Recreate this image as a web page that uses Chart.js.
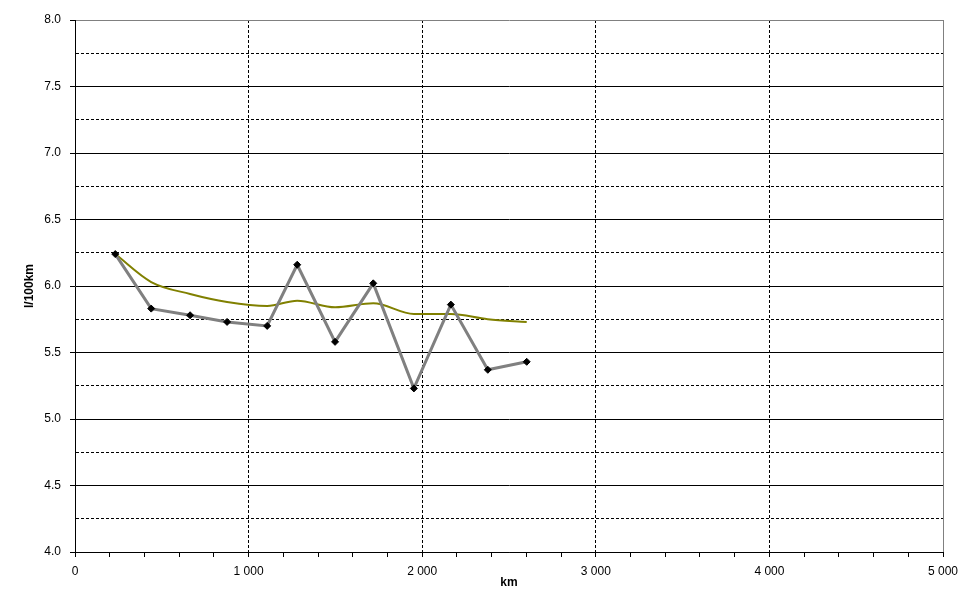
<!DOCTYPE html>
<html>
<head>
<meta charset="utf-8">
<script src="https://cdn.jsdelivr.net/npm/chart.js@4.4.1/dist/chart.umd.min.js"></script>
<style>
  html, body { margin: 0; padding: 0; background: #fff; }
</style>
</head>
<body>
<canvas id="myChart" width="977" height="600"></canvas>
<script>
const distanceKm = [232, 439, 663, 876, 1107, 1280, 1498, 1718, 1952, 2165, 2378, 2602];
const consumption = [6.24, 5.83, 5.78, 5.73, 5.70, 6.16, 5.58, 6.02, 5.23, 5.86, 5.37, 5.43];
const averageConsumption = [6.24, 6.03, 5.94, 5.88, 5.85, 5.89, 5.84, 5.87, 5.79, 5.79, 5.75, 5.73];
const xTickLabels = ['0', '1 000', '2 000', '3 000', '4 000', '5 000'];
const yTickLabels = ['4.0', '4.5', '5.0', '5.5', '6.0', '6.5', '7.0', '7.5', '8.0'];

const toPoints = (xs, ys) => xs.map((x, i) => ({ x, y: ys[i] }));

const isHalf = (v) => Math.abs(v * 2 - Math.round(v * 2)) < 1e-6;
const isThousand = (v) => v % 1000 === 0;

const font = { family: 'Arial, "Liberation Sans", sans-serif', size: 12 };

/* eslint-disable */
const fuelChart = new Chart('myChart', {
  /* eslint-enable */
  type: 'line',
  data: {
    datasets: [
      {
        data: toPoints(distanceKm, averageConsumption),
        borderColor: '#808000',
        borderWidth: 2,
        pointRadius: 0,
        cubicInterpolationMode: 'monotone',
        fill: false,
        order: 1,
      },
      {
        data: toPoints(distanceKm, consumption),
        borderColor: '#808080',
        borderWidth: 3,
        pointStyle: 'rectRot',
        pointRadius: 3.5,
        pointBackgroundColor: '#000',
        pointBorderColor: '#000',
        pointBorderWidth: 1,
        tension: 0,
        fill: false,
        order: 0,
      },
    ],
  },
  options: {
    responsive: false,
    animation: false,
    devicePixelRatio: 1,
    layout: { padding: { top: 20, right: 34, left: 0, bottom: 0 } },
    plugins: { legend: { display: false }, tooltip: { enabled: false } },
    scales: {
      x: {
        type: 'linear',
        min: 0,
        max: 5000,
        afterFit: (scale) => { scale.height = 48; },
        ticks: {
          stepSize: 200,
          autoSkip: false,
          maxRotation: 0,
          padding: 7,
          color: '#000',
          font,
          callback: (v) => (isThousand(v) ? xTickLabels[v / 1000] : ''),
        },
        grid: {
          drawTicks: true,
          tickLength: 5,
          tickColor: '#000',
          color: (ctx) => {
            const v = ctx.tick && ctx.tick.value;
            if (v === 5000) return '#808080';
            if (v > 0 && isThousand(v)) return '#000';
            return 'rgba(0,0,0,0)';
          },
        },
        border: {
          color: '#000',
          width: 1,
          dash: (ctx) => (ctx.tick && ctx.tick.value !== 5000 ? [3, 2] : []),
        },
        title: {
          display: true,
          text: 'km',
          color: '#000',
          font: { ...font, weight: 'bold' },
          padding: { top: 0, bottom: 10 },
        },
      },
      y: {
        min: 4,
        max: 8,
        afterFit: (scale) => { scale.width = 75; },
        ticks: {
          stepSize: 0.25,
          autoSkip: false,
          padding: 9,
          color: '#000',
          font,
          callback: (v) => (isHalf(v) ? yTickLabels[Math.round((v - 4) * 2)] : ''),
        },
        grid: {
          drawTicks: true,
          tickLength: 5,
          tickColor: (ctx) => (ctx.tick && isHalf(ctx.tick.value) ? '#000' : 'rgba(0,0,0,0)'),
          color: (ctx) => (ctx.tick && ctx.tick.value === 8 ? '#808080' : '#000'),
        },
        border: {
          color: '#000',
          width: 1,
          dash: (ctx) => (ctx.tick && !isHalf(ctx.tick.value) ? [3, 2] : []),
        },
        title: {
          display: true,
          text: 'l/100km',
          color: '#000',
          font: { ...font, weight: 'bold' },
          padding: { top: 22, bottom: 0 },
        },
      },
    },
  },
});
</script>
</body>
</html>
